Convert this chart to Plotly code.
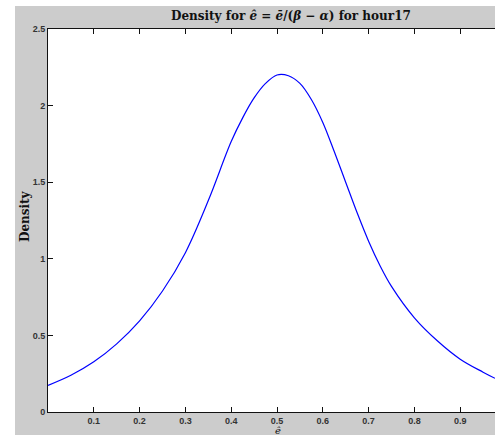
import plotly.graph_objects as go

# Data
x_vals = [0.0, 0.05, 0.1, 0.15, 0.2, 0.25, 0.3, 0.35, 0.4, 0.425, 0.45, 0.475, 0.5,
          0.525, 0.55, 0.575, 0.6, 0.625, 0.65, 0.675, 0.7, 0.725, 0.75, 0.8, 0.85,
          0.9, 0.95, 0.976]
density = [0.174, 0.24, 0.328, 0.445, 0.595, 0.79, 1.04, 1.38, 1.765, 1.92, 2.05, 2.145, 2.20,
           2.195, 2.145, 2.04, 1.89, 1.70, 1.50, 1.30, 1.115, 0.955, 0.82, 0.615, 0.465,
           0.345, 0.26, 0.22]
x_ticks = [0.1, 0.2, 0.3, 0.4, 0.5, 0.6, 0.7, 0.8, 0.9]
x_tick_text = ["0.1", "0.2", "0.3", "0.4", "0.5", "0.6", "0.7", "0.8", "0.9"]
y_ticks = [0, 0.5, 1, 1.5, 2, 2.5]
y_tick_text = ["0", "0.5", "1", "1.5", "2", "2.5"]

W, H = 495, 435
L, R, T, B = 48, 0, 29, 23
pw, ph = W - L - R, H - T - B

def px_x(p):
    return (p - L) / pw

def px_y(p):
    return (H - B - p) / ph

fig = go.Figure()
fig.add_trace(go.Scatter(x=x_vals, y=density, mode="lines", line_shape="spline",
                         line=dict(color="#0000ff", width=1.2, smoothing=1.0),
                         showlegend=False, hoverinfo="skip"))

tick_font = dict(family="Liberation Sans, Arial, sans-serif", size=9, color="#333333", weight="bold")

fig.update_layout(
    width=W, height=H,
    margin=dict(l=L, r=R, t=T, b=B),
    paper_bgcolor="#cccccc",
    plot_bgcolor="white",
    xaxis=dict(range=[0, 0.976], tickvals=x_ticks, ticktext=x_tick_text,
               ticks="inside", ticklen=5, tickcolor="#111", tickwidth=1,
               showline=True, linecolor="#111", linewidth=1, mirror="ticks",
               showgrid=False, zeroline=False, tickfont=tick_font, fixedrange=True),
    yaxis=dict(range=[0, 2.5], tickvals=y_ticks, ticktext=y_tick_text,
               ticks="inside", ticklen=5, tickcolor="#111", tickwidth=1,
               showline=True, linecolor="#111", linewidth=1, mirror=False,
               showgrid=False, zeroline=False, tickfont=tick_font, fixedrange=True),
    shapes=[
        dict(type="rect", xref="paper", yref="paper", x0=px_x(-5), x1=px_x(15),
             y0=px_y(440), y1=px_y(-5), fillcolor="white", line=dict(width=0), layer="above"),
        dict(type="rect", xref="paper", yref="paper", x0=px_x(-5), x1=px_x(500),
             y0=px_y(6), y1=px_y(-5), fillcolor="white", line=dict(width=0), layer="above"),
    ],
    annotations=[
        dict(text="<b>Density for <i>ê</i> = <i>ē</i>/(<i>β</i> − <i>α</i>) for hour17</b>",
             xref="paper", yref="paper", x=px_x(291), y=px_y(16), showarrow=False,
             xanchor="center", yanchor="middle",
             font=dict(family="DejaVu Serif, Liberation Serif, serif", size=12, color="#111")),
        dict(text="<b>Density</b>", textangle=-90,
             xref="paper", yref="paper", x=px_x(25), y=px_y(216), showarrow=False,
             xanchor="center", yanchor="middle",
             font=dict(family="DejaVu Serif, Liberation Serif, serif", size=12, color="#111")),
        dict(text="<i>ê</i>",
             xref="paper", yref="paper", x=px_x(278), y=px_y(431), showarrow=False,
             xanchor="center", yanchor="middle",
             font=dict(family="DejaVu Serif, Liberation Serif, serif", size=10, color="#111")),
    ],
)

fig.write_html("out.html", config={"displayModeBar": False},
               post_script="document.body.style.margin='0';document.body.style.overflow='hidden';")
